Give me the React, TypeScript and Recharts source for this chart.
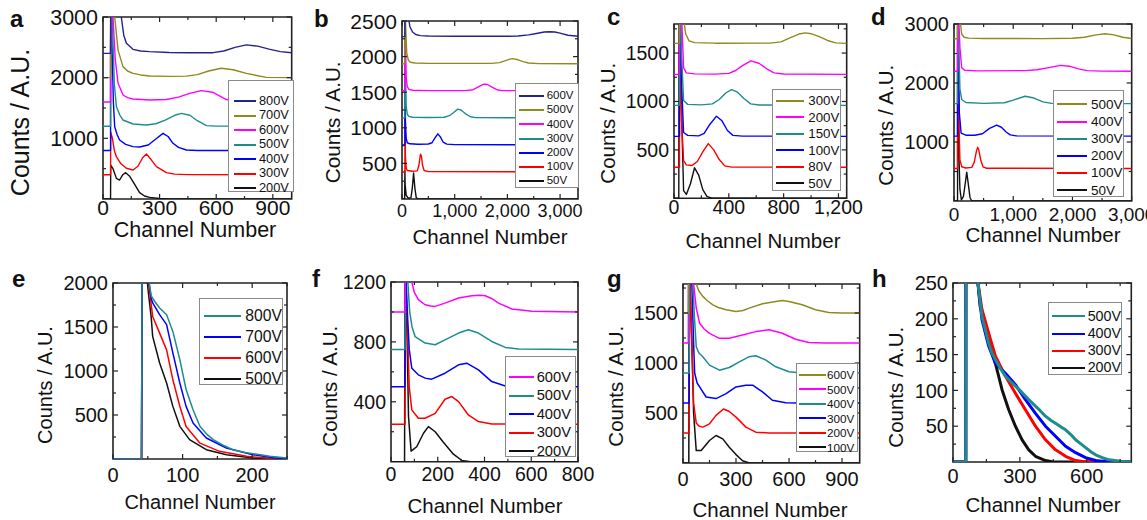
import { LineChart, Line, XAxis, YAxis, ReferenceArea, Legend } from 'recharts'

type Pt = [number, number]

const NAVY = '#24248c'
const OLIVE = '#8c8c1e'
const MAGENTA = '#ff00ff'
const TEAL = '#1e8c8c'
const BLUE = '#0000ff'
const RED = '#ff0000'
const BLACK = '#111111'
const AXIS = '#222222'
const FONT = '"Liberation Sans", Arial, Helvetica, sans-serif'

// ---- panel a : counts vs channel, offset by 400 per voltage
const aXTicks = [0, 150, 300, 450, 600, 750, 900]
const aXLabels = [0, 300, 600, 900]
const aYTicks = [500, 1000, 1500, 2000, 2500, 3000]
const aYLabels = [1000, 2000, 3000]
const a800V: Pt[] = [[0, 2400], [40, 2400], [41, 3500], [70, 3400], [97, 3000], [110, 2700], [124, 2566], [159, 2467], [200, 2440], [247, 2429], [350, 2415], [450, 2410], [583, 2412], [640, 2440], [700, 2500], [760, 2540], [820, 2520], [880, 2470], [940, 2430], [1000, 2410]]
const a700V: Pt[] = [[0, 2000], [40, 2000], [41, 3500], [55, 3200], [62, 3000], [80, 2450], [106, 2182], [130, 2110], [159, 2071], [200, 2045], [247, 2028], [350, 2022], [442, 2025], [500, 2050], [560, 2110], [627, 2155], [690, 2130], [760, 2070], [866, 2005], [1000, 2000]]
const a600V: Pt[] = [[0, 1600], [40, 1600], [41, 3500], [53, 3000], [65, 2300], [80, 1907], [106, 1714], [130, 1670], [159, 1648], [247, 1632], [336, 1640], [400, 1680], [460, 1740], [521, 1786], [580, 1760], [654, 1640], [720, 1612], [800, 1603], [1000, 1600]]
const a500V: Pt[] = [[0, 1200], [40, 1200], [41, 3500], [49, 3000], [60, 1900], [71, 1522], [90, 1380], [106, 1302], [159, 1236], [230, 1220], [280, 1240], [330, 1300], [380, 1380], [415, 1412], [460, 1380], [500, 1290], [548, 1210], [600, 1202], [1000, 1200]]
const a400V: Pt[] = [[0, 800], [40, 800], [41, 3500], [48, 2500], [55, 1600], [62, 1192], [75, 1060], [88, 973], [120, 900], [159, 863], [194, 858], [240, 890], [280, 990], [318, 1082], [345, 1030], [371, 918], [400, 850], [442, 808], [500, 800], [1000, 800]]
const a300V: Pt[] = [[0, 400], [40, 400], [41, 1100], [50, 1000], [60, 800], [71, 698], [95, 580], [124, 506], [159, 478], [185, 540], [210, 680], [230, 742], [255, 650], [283, 533], [336, 434], [380, 410], [450, 402], [1000, 400]]
const a200V: Pt[] = [[0, 0], [40, 0], [41, 560], [53, 500], [71, 340], [88, 313], [105, 400], [120, 434], [140, 380], [159, 286], [194, 104], [220, 50], [247, 27], [300, 8], [350, 0], [1000, 0]]

// ---- panel b
const bXTicks = [0, 500, 1000, 1500, 2000, 2500, 3000]
const bXLabels = [0, 1000, 2000, 3000]
const bYTicks = [250, 500, 750, 1000, 1250, 1500, 1750, 2000, 2250, 2500]
const bYLabels = [500, 1000, 1500, 2000, 2500]
const b600V: Pt[] = [[0, 2280], [55, 2280], [57, 3200], [120, 2560], [150, 2420], [200, 2345], [260, 2310], [350, 2295], [500, 2290], [1000, 2285], [2000, 2285], [2200, 2290], [2400, 2305], [2550, 2325], [2700, 2345], [2800, 2350], [2900, 2345], [3000, 2330], [3150, 2300], [3340, 2285]]
const b500V: Pt[] = [[0, 1900], [55, 1900], [57, 3000], [70, 2400], [90, 2050], [120, 1950], [160, 1920], [250, 1910], [500, 1905], [1700, 1905], [1850, 1915], [1950, 1940], [2050, 1965], [2100, 1972], [2200, 1955], [2300, 1930], [2400, 1910], [2600, 1902], [3340, 1900]]
const b400V: Pt[] = [[0, 1520], [55, 1520], [57, 3000], [65, 2200], [80, 1700], [100, 1580], [130, 1540], [200, 1528], [500, 1522], [1200, 1522], [1350, 1535], [1450, 1575], [1550, 1612], [1620, 1608], [1700, 1575], [1800, 1535], [1900, 1522], [3340, 1520]]
const b300V: Pt[] = [[0, 1140], [55, 1140], [57, 2800], [65, 1800], [80, 1300], [100, 1190], [130, 1160], [200, 1148], [500, 1145], [800, 1148], [900, 1170], [980, 1215], [1060, 1262], [1120, 1250], [1200, 1200], [1300, 1155], [1400, 1143], [3340, 1140]]
const b200V: Pt[] = [[0, 760], [55, 760], [57, 1900], [65, 1100], [80, 850], [100, 790], [150, 775], [300, 770], [500, 772], [570, 790], [620, 850], [680, 915], [730, 870], [780, 800], [850, 770], [1000, 763], [3340, 760]]
const b100V: Pt[] = [[0, 380], [55, 380], [57, 1200], [65, 600], [80, 430], [100, 400], [200, 390], [290, 395], [320, 470], [350, 630], [370, 600], [390, 470], [420, 400], [500, 385], [3340, 380]]
const b50V: Pt[] = [[0, 0], [50, 0], [55, 400], [60, 200], [80, 50], [120, 10], [170, 20], [195, 150], [220, 365], [245, 150], [270, 20], [300, 0], [3340, 0]]

// ---- panel c
const cXTicks = [0, 200, 400, 600, 800, 1000, 1200]
const cXLabels = [0, 400, 800, 1200]
const cYTicks = [250, 500, 750, 1000, 1250, 1500, 1750]
const cYLabels = [500, 1000, 1500]
const c300V: Pt[] = [[0, 1600], [40, 1600], [42, 2500], [70, 1850], [85, 1700], [110, 1625], [150, 1608], [300, 1602], [700, 1603], [780, 1615], [850, 1660], [920, 1700], [960, 1708], [1000, 1700], [1060, 1670], [1120, 1630], [1180, 1605], [1260, 1600]]
const c200V: Pt[] = [[0, 1280], [40, 1280], [42, 2500], [55, 1900], [70, 1350], [90, 1295], [150, 1285], [300, 1282], [400, 1290], [450, 1320], [500, 1370], [560, 1420], [620, 1395], [680, 1335], [730, 1295], [800, 1283], [1260, 1280]]
const c150V: Pt[] = [[0, 960], [40, 960], [42, 2500], [55, 1500], [70, 1010], [100, 970], [200, 965], [280, 975], [330, 1020], [380, 1090], [420, 1122], [460, 1100], [510, 1030], [560, 975], [620, 963], [1260, 960]]
const c100V: Pt[] = [[0, 640], [40, 640], [42, 2200], [55, 1200], [70, 680], [100, 650], [180, 645], [220, 670], [260, 760], [310, 848], [350, 800], [390, 700], [430, 650], [500, 642], [1260, 640]]
const c80V: Pt[] = [[0, 320], [40, 320], [42, 2000], [55, 800], [70, 390], [90, 345], [130, 338], [170, 380], [210, 480], [250, 565], [290, 500], [330, 400], [370, 335], [420, 322], [1260, 320]]
const c50V: Pt[] = [[0, 0], [35, 0], [37, 2000], [55, 900], [70, 80], [90, 40], [120, 150], [150, 315], [180, 240], [210, 90], [240, 20], [280, 0], [1260, 0]]

// ---- panel d
const dXTicks = [0, 500, 1000, 1500, 2000, 2500, 3000]
const dXLabels = [0, 1000, 2000, 3000]
const dYTicks = [500, 1000, 1500, 2000, 2500, 3000]
const dYLabels = [1000, 2000, 3000]
const d500V: Pt[] = [[0, 2750], [60, 2750], [62, 3500], [110, 3000], [130, 2830], [170, 2775], [250, 2760], [500, 2755], [1500, 2752], [2000, 2758], [2200, 2775], [2400, 2815], [2550, 2835], [2700, 2815], [2850, 2775], [3000, 2755]]
const d400V: Pt[] = [[0, 2200], [60, 2200], [62, 3500], [100, 2600], [130, 2260], [180, 2215], [400, 2205], [1200, 2210], [1400, 2225], [1600, 2260], [1800, 2298], [1950, 2285], [2100, 2240], [2250, 2210], [2500, 2202], [3000, 2200]]
const d300V: Pt[] = [[0, 1650], [60, 1650], [62, 3500], [100, 1900], [130, 1720], [200, 1670], [500, 1655], [850, 1665], [1000, 1710], [1200, 1775], [1350, 1745], [1500, 1680], [1650, 1655], [3000, 1650]]
const d200V: Pt[] = [[0, 1100], [60, 1100], [62, 3500], [90, 1500], [120, 1150], [200, 1115], [350, 1115], [480, 1140], [600, 1230], [720, 1285], [800, 1250], [880, 1170], [950, 1120], [1050, 1103], [3000, 1100]]
const d100V: Pt[] = [[0, 550], [60, 550], [62, 3500], [80, 1500], [100, 700], [130, 580], [200, 560], [300, 570], [340, 650], [380, 850], [400, 910], [420, 860], [450, 700], [490, 580], [550, 555], [3000, 550]]
const d50V: Pt[] = [[0, 0], [60, 0], [62, 3500], [80, 900], [100, 200], [125, 20], [160, 80], [190, 300], [215, 490], [240, 300], [270, 60], [300, 0], [3000, 0]]

// ---- panel e
const eXTicks = [0, 50, 100, 150, 200, 250]
const eXLabels = [0, 100, 200]
const eYTicks = [250, 500, 750, 1000, 1250, 1500, 1750, 2000]
const eYLabels = [500, 1000, 1500, 2000]
const e800V: Pt[] = [[0, 0], [41, 0], [42, 3000], [50, 2100], [55, 1850], [60, 1790], [67, 1716], [77, 1640], [86, 1450], [96, 1130], [105, 790], [115, 560], [125, 370], [135, 280], [144, 220], [160, 150], [172, 106], [190, 75], [201, 61], [225, 30], [250, 10]]
const e700V: Pt[] = [[0, 0], [41, 0], [42, 3000], [50, 2100], [55, 1820], [57, 1773], [67, 1640], [77, 1527], [86, 1205], [96, 864], [105, 598], [115, 409], [134, 239], [163, 125], [201, 49], [230, 15], [250, 5]]
const e600V: Pt[] = [[0, 0], [41, 0], [42, 3000], [50, 2050], [55, 1750], [57, 1620], [67, 1430], [77, 1240], [86, 900], [96, 600], [105, 370], [125, 180], [153, 87], [192, 30], [220, 10], [250, 3]]
const e500V: Pt[] = [[0, 0], [41, 0], [42, 3000], [50, 1950], [55, 1600], [57, 1394], [67, 1091], [77, 864], [86, 598], [96, 371], [110, 220], [134, 106], [163, 49], [201, 11], [230, 2], [250, 0]]

// ---- panel f
const fXTicks = [0, 100, 200, 300, 400, 500, 600, 700, 800]
const fXLabels = [0, 200, 400, 600, 800]
const fYTicks = [200, 400, 600, 800, 1000, 1200]
const fYLabels = [400, 800, 1200]
const f600V: Pt[] = [[0, 1000], [60, 1000], [62, 1500], [75, 1400], [89, 1200], [100, 1130], [117, 1082], [146, 1048], [170, 1040], [189, 1037], [231, 1059], [289, 1093], [346, 1108], [380, 1112], [403, 1108], [430, 1090], [460, 1059], [517, 1020], [603, 1004], [800, 1000]]
const f500V: Pt[] = [[0, 750], [60, 750], [62, 1300], [72, 1200], [80, 1000], [90, 900], [103, 836], [146, 792], [189, 781], [231, 814], [289, 859], [331, 881], [374, 859], [431, 803], [489, 763], [546, 752], [800, 750]]
const f400V: Pt[] = [[0, 500], [60, 500], [62, 1300], [70, 1000], [78, 750], [89, 624], [117, 580], [146, 558], [174, 551], [231, 591], [289, 647], [324, 658], [374, 613], [431, 535], [489, 505], [800, 500]]
const f300V: Pt[] = [[0, 250], [60, 250], [62, 1300], [70, 900], [78, 500], [89, 346], [117, 290], [146, 290], [189, 323], [231, 417], [260, 435], [289, 401], [331, 312], [374, 268], [431, 252], [800, 250]]
const f200V: Pt[] = [[0, 0], [58, 0], [60, 1300], [68, 900], [75, 300], [86, 70], [110, 100], [139, 190], [160, 234], [189, 200], [224, 130], [267, 50], [303, 8], [340, 0], [800, 0]]

// ---- panel g
const gXTicks = [0, 150, 300, 450, 600, 750, 900]
const gXLabels = [0, 300, 600, 900]
const gYTicks = [250, 500, 750, 1000, 1250, 1500, 1750]
const gYLabels = [500, 1000, 1500]
const g600V: Pt[] = [[0, 1500], [30, 1500], [32, 2200], [60, 2000], [75, 1790], [90, 1720], [112, 1666], [140, 1620], [169, 1582], [200, 1555], [244, 1532], [300, 1515], [340, 1525], [375, 1549], [450, 1592], [525, 1616], [562, 1625], [600, 1616], [675, 1582], [750, 1532], [825, 1505], [900, 1500], [1000, 1500]]
const g500V: Pt[] = [[0, 1200], [30, 1200], [32, 2200], [50, 2000], [60, 1790], [75, 1550], [94, 1398], [120, 1340], [150, 1297], [206, 1247], [262, 1247], [337, 1280], [412, 1314], [487, 1332], [562, 1297], [637, 1237], [712, 1205], [800, 1200], [1000, 1200]]
const g400V: Pt[] = [[0, 900], [35, 900], [37, 2200], [50, 1900], [56, 1790], [65, 1450], [75, 1163], [90, 1100], [112, 1063], [150, 979], [206, 928], [262, 955], [319, 1012], [375, 1063], [412, 1073], [469, 1029], [525, 962], [600, 912], [675, 900], [1000, 900]]
const g300V: Pt[] = [[0, 600], [35, 600], [37, 2200], [50, 1800], [60, 1200], [66, 900], [80, 800], [94, 761], [131, 660], [187, 644], [244, 694], [300, 761], [356, 778], [394, 778], [450, 711], [506, 627], [581, 602], [650, 600], [1000, 600]]
const g200V: Pt[] = [[0, 300], [35, 300], [37, 2000], [50, 1200], [60, 600], [75, 400], [90, 370], [112, 359], [150, 392], [187, 476], [229, 540], [262, 515], [300, 459], [356, 359], [412, 308], [487, 300], [1000, 300]]
const g100V: Pt[] = [[0, 0], [33, 0], [35, 2000], [50, 1200], [60, 500], [75, 124], [103, 124], [150, 225], [187, 275], [225, 241], [262, 158], [300, 84], [337, 23], [375, 0], [1000, 0]]

// ---- panel h
const hXTicks = [0, 150, 300, 450, 600, 750]
const hXLabels = [0, 300, 600]
const hYTicks = [25, 50, 75, 100, 125, 150, 175, 200, 225, 250]
const hYLabels = [50, 100, 150, 200, 250]
const h500V: Pt[] = [[0, 0], [57, 0], [58, 600], [90, 400], [112, 250], [130, 203], [145, 185], [160, 166], [175, 152], [190, 143], [210, 132], [235, 120], [260, 112], [280, 106], [300, 100], [325, 92], [350, 84], [370, 78], [390, 72], [415, 64], [440, 58], [460, 54], [485, 49], [505, 45], [530, 38], [550, 31], [575, 25], [595, 20], [620, 14], [640, 10], [670, 6], [700, 3], [750, 1], [800, 0]]
const h400V: Pt[] = [[0, 0], [57, 0], [58, 600], [90, 400], [112, 250], [130, 199], [160, 162], [190, 138], [235, 124], [280, 108], [325, 87], [370, 68], [415, 50], [460, 36], [505, 22], [550, 13], [595, 6], [640, 2], [700, 0], [800, 0]]
const h300V: Pt[] = [[0, 0], [57, 0], [58, 600], [90, 400], [112, 250], [130, 213], [160, 180], [190, 148], [235, 120], [280, 96], [325, 73], [370, 50], [415, 31], [460, 17], [505, 8], [550, 2], [600, 0], [800, 0]]
const h200V: Pt[] = [[0, 0], [57, 0], [58, 600], [90, 400], [112, 250], [122, 217], [140, 195], [160, 175], [190, 138], [220, 101], [250, 73], [280, 50], [310, 31], [340, 17], [370, 8], [415, 2], [450, 0], [800, 0]]

interface Trace { name: string; color: string; pts: Pt[] }
interface LegendCfg { left: number; top: number; width: number; height: number; first: number; step: number; font: number; lineX: number; lineLen: number; textX: number }
interface Panel {
  letter: string
  letterAt: [number, number]
  traces: Trace[]
  frame: [number, number, number, number]
  xDomain: [number, number]
  yDomain: [number, number]
  xTicks: number[]
  xLabels: number[]
  yTicks: number[]
  yLabels: number[]
  commas: boolean
  tickFont: number
  xTickFont: number
  xGap: number
  stroke: number
  legend: LegendCfg
  xTitle: [number, number, number]
  yTitle: [number, number, number]
}

const panels: Panel[] = [
  {
    letter: 'a', letterAt: [10, 27],
    traces: [
      { name: '800V', color: NAVY, pts: a800V }, { name: '700V', color: OLIVE, pts: a700V },
      { name: '600V', color: MAGENTA, pts: a600V }, { name: '500V', color: TEAL, pts: a500V },
      { name: '400V', color: BLUE, pts: a400V }, { name: '300V', color: RED, pts: a300V },
      { name: '200V', color: BLACK, pts: a200V },
    ],
    frame: [103.3, 17, 292, 199], xDomain: [0, 1000], yDomain: [0, 3000],
    xTicks: aXTicks, xLabels: aXLabels, yTicks: aYTicks, yLabels: aYLabels, commas: false,
    tickFont: 21.5, xTickFont: 21, xGap: 16, stroke: 1.4,
    legend: { left: 228, top: 80, width: 66, height: 112, first: 100, step: 14.5, font: 12.8, lineX: 233, lineLen: 22, textX: 258 },
    xTitle: [195, 231, 21.5], yTitle: [20, 122, 25],
  },
  {
    letter: 'b', letterAt: [314, 27],
    traces: [
      { name: '600V', color: NAVY, pts: b600V }, { name: '500V', color: OLIVE, pts: b500V },
      { name: '400V', color: MAGENTA, pts: b400V }, { name: '300V', color: TEAL, pts: b300V },
      { name: '200V', color: BLUE, pts: b200V }, { name: '100V', color: RED, pts: b100V },
      { name: '50V', color: BLACK, pts: b50V },
    ],
    frame: [402, 20.7, 578, 198.7], xDomain: [0, 3340], yDomain: [0, 2500],
    xTicks: bXTicks, xLabels: bXLabels, yTicks: bYTicks, yLabels: bYLabels, commas: true,
    tickFont: 21, xTickFont: 18, xGap: 18, stroke: 1.4,
    legend: { left: 515, top: 83, width: 64, height: 105, first: 95, step: 14.2, font: 11.5, lineX: 518, lineLen: 25, textX: 545.7 },
    xTitle: [490, 237, 20.5], yTitle: [333, 122, 20.7],
  },
  {
    letter: 'c', letterAt: [607, 25],
    traces: [
      { name: '300V', color: OLIVE, pts: c300V }, { name: '200V', color: MAGENTA, pts: c200V },
      { name: '150V', color: TEAL, pts: c150V }, { name: '100V', color: BLUE, pts: c100V },
      { name: '80V', color: RED, pts: c80V }, { name: '50V', color: BLACK, pts: c50V },
    ],
    frame: [674.3, 24, 847, 198.3], xDomain: [0, 1260], yDomain: [0, 1800],
    xTicks: cXTicks, xLabels: cXLabels, yTicks: cYTicks, yLabels: cYLabels, commas: true,
    tickFont: 19.5, xTickFont: 19.5, xGap: 15.5, stroke: 1.4,
    legend: { left: 771.7, top: 89.3, width: 69, height: 101.4, first: 100, step: 16.5, font: 13.3, lineX: 775, lineLen: 28, textX: 807.3 },
    xTitle: [763, 241, 20.5], yTitle: [608, 123, 20.5],
  },
  {
    letter: 'd', letterAt: [871, 25],
    traces: [
      { name: '500V', color: OLIVE, pts: d500V }, { name: '400V', color: MAGENTA, pts: d400V },
      { name: '300V', color: TEAL, pts: d300V }, { name: '200V', color: BLUE, pts: d200V },
      { name: '100V', color: RED, pts: d100V }, { name: '50V', color: BLACK, pts: d50V },
    ],
    frame: [954, 23.7, 1131.7, 200.7], xDomain: [0, 3000], yDomain: [0, 3000],
    xTicks: dXTicks, xLabels: dXLabels, yTicks: dYTicks, yLabels: dYLabels, commas: true,
    tickFont: 20, xTickFont: 19, xGap: 20, stroke: 1.4,
    legend: { left: 1053.3, top: 90, width: 71, height: 106.7, first: 103.3, step: 17.2, font: 13.5, lineX: 1056.7, lineLen: 30, textX: 1090 },
    xTitle: [1043, 235, 20.5], yTitle: [886, 125, 20.5],
  },
  {
    letter: 'e', letterAt: [12, 287],
    traces: [
      { name: '800V', color: TEAL, pts: e800V }, { name: '700V', color: BLUE, pts: e700V },
      { name: '600V', color: RED, pts: e600V }, { name: '500V', color: BLACK, pts: e500V },
    ],
    frame: [113.3, 283.3, 287.3, 459.3], xDomain: [0, 250], yDomain: [0, 2000],
    xTicks: eXTicks, xLabels: eXLabels, yTicks: eYTicks, yLabels: eYLabels, commas: false,
    tickFont: 20, xTickFont: 20, xGap: 22.7, stroke: 1.5,
    legend: { left: 199.3, top: 297.7, width: 84, height: 87.3, first: 315, step: 21, font: 15.7, lineX: 203, lineLen: 37, textX: 244.3 },
    xTitle: [200, 502, 20], yTitle: [45, 385, 20],
  },
  {
    letter: 'f', letterAt: [312, 287],
    traces: [
      { name: '600V', color: MAGENTA, pts: f600V }, { name: '500V', color: TEAL, pts: f500V },
      { name: '400V', color: BLUE, pts: f400V }, { name: '300V', color: RED, pts: f300V },
      { name: '200V', color: BLACK, pts: f200V },
    ],
    frame: [391, 282.3, 578, 462], xDomain: [0, 800], yDomain: [0, 1200],
    xTicks: fXTicks, xLabels: fXLabels, yTicks: fYTicks, yLabels: fYLabels, commas: false,
    tickFont: 19.5, xTickFont: 19.5, xGap: 19.7, stroke: 1.5,
    legend: { left: 505, top: 356, width: 71, height: 101.3, first: 376, step: 18.5, font: 14.7, lineX: 508.3, lineLen: 25, textX: 535.7 },
    xTitle: [485, 506, 20.5], yTitle: [330, 386, 20.5],
  },
  {
    letter: 'g', letterAt: [607, 287],
    traces: [
      { name: '600V', color: OLIVE, pts: g600V }, { name: '500V', color: MAGENTA, pts: g500V },
      { name: '400V', color: TEAL, pts: g400V }, { name: '300V', color: BLUE, pts: g300V },
      { name: '200V', color: RED, pts: g200V }, { name: '100V', color: BLACK, pts: g100V },
    ],
    frame: [683.3, 284, 860, 463], xDomain: [0, 1000], yDomain: [0, 1790],
    xTicks: gXTicks, xLabels: gXLabels, yTicks: gYTicks, yLabels: gYLabels, commas: false,
    tickFont: 20, xTickFont: 20, xGap: 22.7, stroke: 1.5,
    legend: { left: 796, top: 363.3, width: 62, height: 88.4, first: 374, step: 14.5, font: 11.7, lineX: 798, lineLen: 27, textX: 826 },
    xTitle: [770, 510, 20.5], yTitle: [616, 386, 20.5],
  },
  {
    letter: 'h', letterAt: [872, 287],
    traces: [
      { name: '500V', color: TEAL, pts: h500V }, { name: '400V', color: BLUE, pts: h400V },
      { name: '300V', color: RED, pts: h300V }, { name: '200V', color: BLACK, pts: h200V },
    ],
    frame: [952.7, 283.3, 1131, 462.3], xDomain: [0, 800], yDomain: [0, 250],
    xTicks: hXTicks, xLabels: hXLabels, yTicks: hYTicks, yLabels: hYLabels, commas: false,
    tickFont: 20, xTickFont: 20, xGap: 20.7, stroke: 3,
    legend: { left: 1048.3, top: 301.7, width: 73.4, height: 73.3, first: 315, step: 17.2, font: 14.3, lineX: 1051.7, lineLen: 33, textX: 1086.7 },
    xTitle: [1043, 505, 20.5], yTitle: [896, 387, 20.5],
  },
]

// chart box around each frame: y axis column on the left, x labels below
const ML = 80
const MT = 14
const MR = 18
const XH = 44

function LegendBox({ p }: { p: Panel }) {
  const l = p.legend
  return (
    <div style={{ position: 'relative', width: l.width, height: l.height, boxSizing: 'border-box', border: '1px solid #8a8a8a', background: '#fff', fontFamily: FONT, fontSize: l.font, color: '#111' }}>
      {p.traces.map((t, i) => {
        const cy = l.first + i * l.step - l.top
        return (
          <div key={t.name}>
            <div style={{ position: 'absolute', left: Math.round(l.lineX - l.left), top: Math.round(cy) - 1, width: l.lineLen, height: 2, background: t.color }} />
            <div style={{ position: 'absolute', left: l.textX - l.left, top: cy - l.font / 2, lineHeight: `${l.font}px`, whiteSpace: 'nowrap' }}>{t.name}</div>
          </div>
        )
      })}
    </div>
  )
}

function PanelChart({ p }: { p: Panel }) {
  const [x0, y0, x1, y1] = p.frame
  const left = x0 - ML
  const top = y0 - MT
  const w = x1 - x0
  const h = y1 - y0
  const fmt = (v: number) => (p.commas ? v.toLocaleString('en-US') : String(v))

  const xTick = (props: any) => {
    const { x, y, payload } = props
    const v = payload.value as number
    const major = p.xLabels.includes(v)
    const len = major ? 5 : 3
    return (
      <g>
        <line x1={x} y1={y} x2={x} y2={y - len} stroke={AXIS} strokeWidth={1.2} />
        <line x1={x} y1={y - h} x2={x} y2={y - h + len} stroke={AXIS} strokeWidth={1.2} />
        {major && (
          <text x={x} y={y + p.xGap} textAnchor="middle" fontSize={p.xTickFont} fontFamily={FONT} fill="#111">{fmt(v)}</text>
        )}
      </g>
    )
  }

  const yTick = (props: any) => {
    const { x, y, payload } = props
    const v = payload.value as number
    const major = p.yLabels.includes(v)
    const len = major ? 5 : 3
    return (
      <g>
        <line x1={x} y1={y} x2={x + len} y2={y} stroke={AXIS} strokeWidth={1.2} />
        <line x1={x + w} y1={y} x2={x + w - len} y2={y} stroke={AXIS} strokeWidth={1.2} />
        {major && (
          <text x={x - 5} y={y + p.tickFont * 0.36} textAnchor="end" fontSize={p.tickFont} fontFamily={FONT} fill="#111">{v}</text>
        )}
      </g>
    )
  }

  // lowest voltage first so the top legend entry is drawn last
  const drawOrder = [...p.traces].reverse()

  return (
    <div style={{ position: 'absolute', left, top }}>
      <LineChart width={w + ML + MR} height={h + MT + XH} margin={{ top: MT, right: MR, bottom: 0, left: 0 }}>
        <XAxis dataKey="x" type="number" domain={p.xDomain} ticks={p.xTicks} interval={0} allowDataOverflow
          axisLine={false} tickLine={false} tickSize={0} tickMargin={0} height={XH} tick={xTick} />
        <YAxis type="number" domain={p.yDomain} ticks={p.yTicks} interval={0} allowDataOverflow
          axisLine={false} tickLine={false} tickSize={0} tickMargin={0} width={ML} tick={yTick} />
        {drawOrder.map(t => (
          <Line key={t.name} data={t.pts.map(([x, y]) => ({ x, y }))} dataKey="y" name={t.name}
            type="linear" stroke={t.color} strokeWidth={p.stroke} dot={false} activeDot={false}
            isAnimationActive={false} strokeLinejoin="round" />
        ))}
        <ReferenceArea x1={p.xDomain[0]} x2={p.xDomain[1]} y1={p.yDomain[0]} y2={p.yDomain[1]}
          fill="none" fillOpacity={0} stroke={AXIS} strokeWidth={1.6} ifOverflow="visible" />
        <Legend layout="vertical" align="center" verticalAlign="middle"
          wrapperStyle={{ left: p.legend.left - left, top: p.legend.top - top, width: p.legend.width, height: p.legend.height }}
          content={() => <LegendBox p={p} />} />
      </LineChart>
    </div>
  )
}

function Titles({ p }: { p: Panel }) {
  const [xcx, xcy, xfs] = p.xTitle
  const [ycx, ycy, yfs] = p.yTitle
  const base = { position: 'absolute' as const, fontFamily: FONT, color: '#111', whiteSpace: 'nowrap' as const, textAlign: 'center' as const }
  return (
    <>
      <div style={{ ...base, left: p.letterAt[0], top: p.letterAt[1] - 0.85 * 24, fontSize: 24, lineHeight: '24px', fontWeight: 700, textAlign: 'left' }}>{p.letter}</div>
      <div style={{ ...base, left: xcx - 110, top: xcy - xfs / 2, width: 220, fontSize: xfs, lineHeight: `${xfs}px` }}>Channel Number</div>
      <div style={{ ...base, left: ycx - 110, top: ycy - yfs / 2, width: 220, fontSize: yfs, lineHeight: `${yfs}px`, transform: 'rotate(-90deg)' }}>Counts / A.U.</div>
    </>
  )
}

export default function App() {
  return (
    <div style={{ position: 'absolute', left: 0, top: 0, width: 1147, height: 520, background: '#fff', overflow: 'hidden' }}>
      {panels.map(p => (
        <div key={p.letter}>
          <PanelChart p={p} />
          <Titles p={p} />
        </div>
      ))}
    </div>
  )
}
